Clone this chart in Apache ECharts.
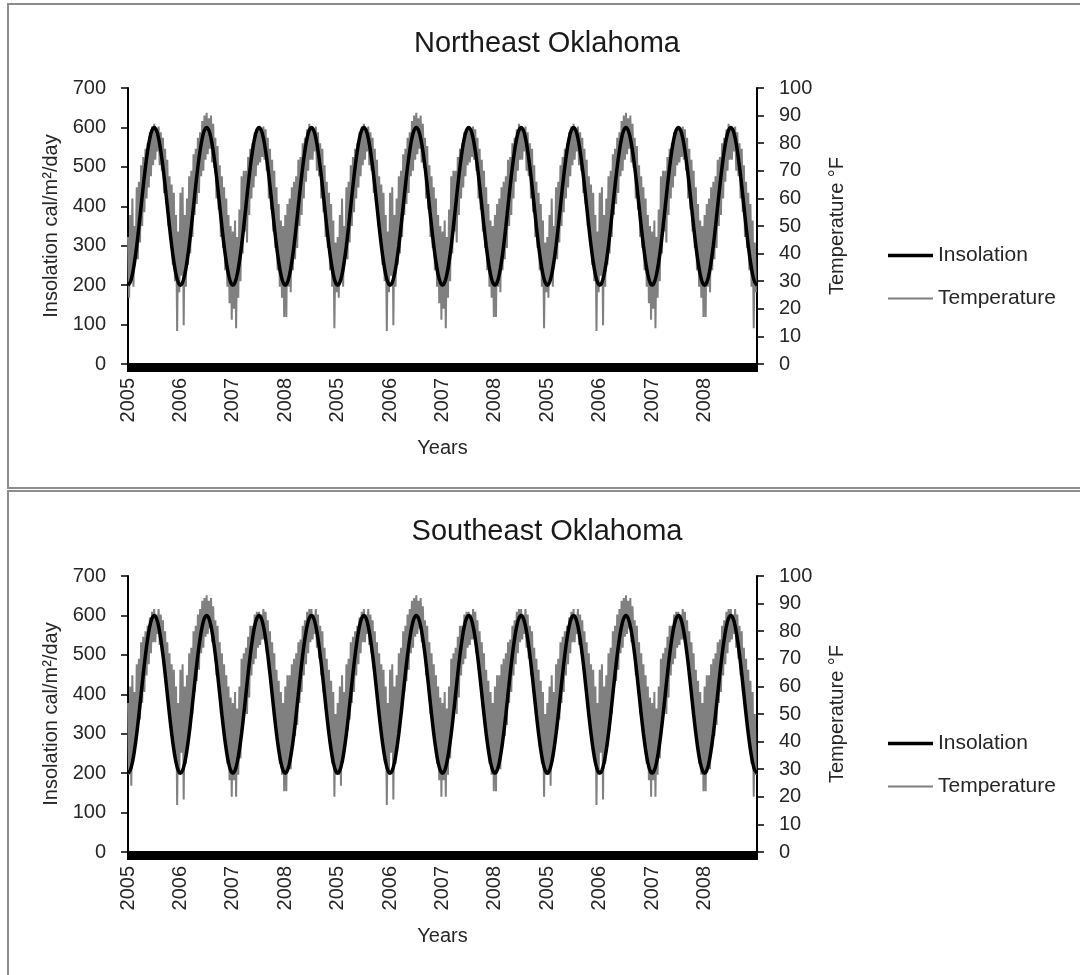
<!DOCTYPE html>
<html>
<head>
<meta charset="utf-8">
<script src="https://cdn.jsdelivr.net/npm/echarts@6/dist/echarts.min.js"></script>
<style>
  body { margin: 0; background: #fff; width: 1080px; height: 975px; overflow: hidden; position: relative; }
  .frame { position: absolute; border: 2px solid #8c8c8c; box-sizing: border-box; }
  .chart { position: absolute; left: 0; width: 1080px; }
</style>
</head>
<body>
<div class="frame" style="left:7px;top:3px;width:1090px;height:486px"></div>
<div class="frame" style="left:7px;top:490px;width:1090px;height:500px"></div>
<div id="ne" class="chart" style="top:0;height:488px"></div>
<div id="se" class="chart" style="top:488px;height:487px"></div>
<script>
// Year labels along the x axis (the 2005-2008 record is shown three times)
const yearLabels = ['2005', '2006', '2007', '2008', '2005', '2006', '2007', '2008', '2005', '2006', '2007', '2008'];

// Insolation over one year, cal/m²/day, sampled twice a month
const insolationYear = [200, 207, 227, 259, 300, 348, 400, 452, 500, 541, 573, 593,
                        600, 593, 573, 541, 500, 452, 400, 348, 300, 259, 227, 207];

// Northeast Oklahoma temperature (°F), four samples per month
const neTemp2005 = [46, 24, 54, 30, 60, 28, 50, 38, 64, 38, 66, 44, 72, 50, 75, 55, 78, 60, 80, 64, 84, 68, 86, 72,
                    87, 74, 85, 77, 86, 72, 84, 70, 82, 62, 78, 58, 74, 50, 68, 46, 65, 36, 62, 30, 54, 12, 48, 26];
const neTemp2006 = [62, 32, 64, 14, 54, 28, 60, 36, 68, 40, 70, 46, 76, 54, 78, 58, 82, 62, 84, 68, 88, 70, 90, 74,
                    91, 76, 89, 78, 90, 73, 87, 71, 82, 60, 79, 56, 72, 46, 68, 42, 64, 34, 60, 28, 54, 22, 50, 16];
const neTemp2007 = [48, 20, 52, 13, 46, 24, 56, 30, 68, 40, 70, 48, 70, 44, 75, 54, 78, 60, 80, 64, 84, 68, 85, 72,
                    85, 73, 84, 75, 86, 74, 85, 70, 82, 60, 78, 56, 74, 48, 70, 42, 64, 34, 58, 28, 52, 24, 50, 17];
const neTemp2008 = [54, 17, 58, 28, 60, 26, 64, 34, 66, 38, 68, 42, 74, 50, 75, 54, 80, 60, 82, 66, 85, 70, 87, 74,
                    86, 74, 85, 77, 86, 70, 84, 68, 80, 60, 78, 55, 72, 46, 66, 42, 62, 34, 58, 28, 52, 13, 44, 26];

// Southeast Oklahoma temperature (°F), four samples per month
const seTemp2005 = [54, 28, 60, 24, 64, 34, 58, 40, 68, 44, 70, 48, 76, 54, 78, 58, 80, 64, 82, 68, 85, 72, 87, 76,
                    88, 76, 86, 79, 88, 75, 86, 72, 84, 66, 80, 60, 76, 52, 72, 48, 68, 40, 66, 34, 60, 17, 54, 28];
const seTemp2006 = [66, 36, 68, 19, 60, 32, 64, 38, 72, 44, 74, 50, 80, 58, 82, 62, 86, 66, 88, 72, 91, 74, 92, 78,
                    93, 79, 91, 81, 92, 76, 89, 74, 84, 64, 82, 60, 76, 50, 72, 46, 68, 40, 64, 32, 60, 26, 56, 20];
const seTemp2007 = [54, 26, 58, 20, 52, 28, 60, 34, 70, 46, 72, 52, 74, 50, 78, 56, 82, 64, 82, 68, 86, 70, 87, 74,
                    87, 75, 86, 77, 88, 77, 87, 72, 84, 66, 80, 60, 76, 52, 72, 46, 66, 40, 62, 32, 58, 28, 54, 22];
const seTemp2008 = [60, 22, 64, 32, 64, 30, 68, 38, 70, 42, 72, 46, 76, 54, 77, 58, 82, 64, 84, 68, 87, 72, 88, 76,
                    88, 77, 86, 79, 88, 74, 86, 70, 82, 64, 80, 58, 74, 52, 70, 46, 66, 38, 62, 32, 58, 20, 50, 28];

const FONT = "'Liberation Sans', Arial, sans-serif";
const TEXT = '#262626';
const GREY = '#808080';

function legendEntry(name, top, iconHeight) {
  return {
    orient: 'vertical', left: 883, top: top,
    itemWidth: 45, itemHeight: iconHeight, icon: 'rect',
    data: [name],
    textStyle: { fontFamily: FONT, fontSize: 21, color: TEXT }
  };
}

function buildOption(title, tempYears) {
  // x is measured in years from the first tick
  const tempData = [];
  for (let run = 0; run < 3; run++) {
    tempYears.forEach((arr, y) => {
      arr.forEach((v, j) => tempData.push([run * 4 + y + j / arr.length, v]));
    });
  }
  const insData = [];
  for (let yr = 0; yr < yearLabels.length; yr++) {
    insolationYear.forEach((v, k) => insData.push([yr + k / insolationYear.length, v]));
  }
  insData.push([yearLabels.length, insolationYear[0]]);

  return {
    animation: false,
    textStyle: { fontFamily: FONT },
    title: {
      text: title, left: 542, top: 24, textAlign: 'center',
      textStyle: { fontFamily: FONT, fontSize: 29, fontWeight: 'normal', color: '#1a1a1a' }
    },
    legend: [legendEntry('Insolation', 240, 3.5), legendEntry('Temperature', 283, 2)],
    grid: { left: 128, top: 88, width: 629, height: 276 },
    xAxis: {
      type: 'value', min: 0, max: yearLabels.length, interval: 1,
      name: 'Years', nameLocation: 'middle', nameGap: 74,
      nameTextStyle: { fontFamily: FONT, fontSize: 20, color: TEXT },
      axisLine: { show: true, lineStyle: { color: '#000', width: 2 } },
      axisTick: { show: true, length: 8, lineStyle: { color: '#000', width: 2 } },
      minorTick: { show: true, splitNumber: 60, length: 8, lineStyle: { color: '#000', width: 2 } },
      splitLine: { show: false },
      minorSplitLine: { show: false },
      axisLabel: {
        rotate: 90, margin: 14, fontSize: 20, color: TEXT, fontFamily: FONT,
        formatter: v => (yearLabels[v] !== undefined ? yearLabels[v] : '')
      }
    },
    yAxis: [
      {
        type: 'value', min: 0, max: 700, interval: 100, position: 'left',
        name: 'Insolation cal/m²/day', nameLocation: 'middle', nameGap: 60, nameRotate: 90,
        nameTextStyle: { fontFamily: FONT, fontSize: 20, color: TEXT },
        axisLine: { show: true, lineStyle: { color: '#000', width: 2 } },
        axisTick: { show: true, length: 7, lineStyle: { color: '#000', width: 1.5 } },
        splitLine: { show: false },
        axisLabel: { margin: 22, fontSize: 20, color: TEXT, fontFamily: FONT }
      },
      {
        type: 'value', min: 0, max: 100, interval: 10, position: 'right',
        name: 'Temperature °F', nameLocation: 'middle', nameGap: 70, nameRotate: 90,
        nameTextStyle: { fontFamily: FONT, fontSize: 20, color: TEXT },
        axisLine: { show: true, lineStyle: { color: '#000', width: 2 } },
        axisTick: { show: true, length: 7, lineStyle: { color: '#000', width: 1.5 } },
        splitLine: { show: false },
        axisLabel: { margin: 22, fontSize: 20, color: TEXT, fontFamily: FONT }
      }
    ],
    series: [
      {
        name: 'Temperature', type: 'line', yAxisIndex: 1, data: tempData,
        symbol: 'none', z: 2,
        lineStyle: { color: GREY, width: 2 },
        itemStyle: { color: GREY }
      },
      {
        name: 'Insolation', type: 'line', yAxisIndex: 0, data: insData,
        symbol: 'none', smooth: 0.3, z: 3,
        lineStyle: { color: '#000', width: 3.5 },
        itemStyle: { color: '#000' }
      }
    ]
  };
}

const neChart = echarts.init(document.getElementById('ne'), null, { renderer: 'canvas' });
neChart.setOption(buildOption('Northeast Oklahoma', [neTemp2005, neTemp2006, neTemp2007, neTemp2008]));

const seChart = echarts.init(document.getElementById('se'), null, { renderer: 'canvas' });
seChart.setOption(buildOption('Southeast Oklahoma', [seTemp2005, seTemp2006, seTemp2007, seTemp2008]));
</script>
</body>
</html>
